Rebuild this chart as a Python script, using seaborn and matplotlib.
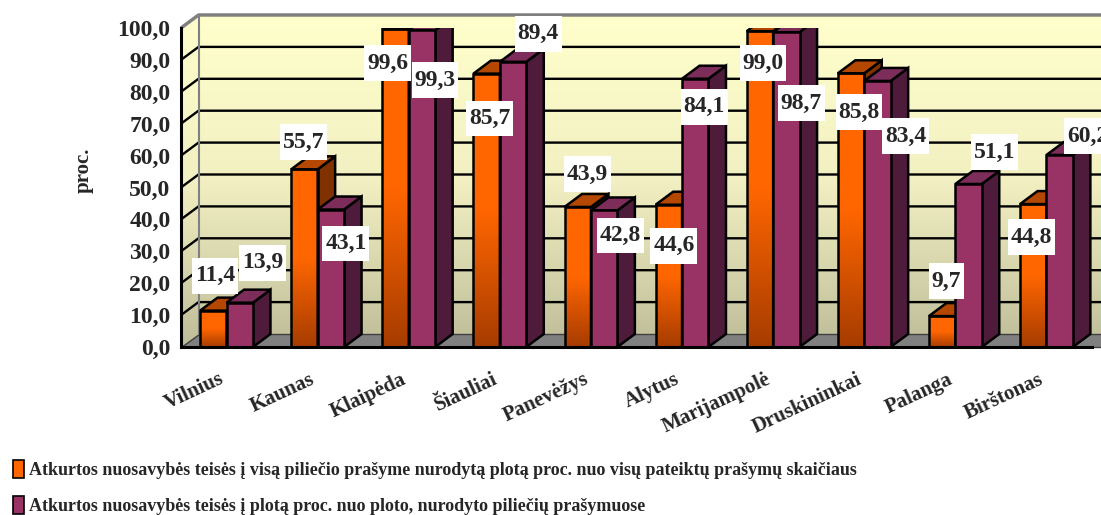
import numpy as np
import pandas as pd
import matplotlib
matplotlib.use("Agg")
import matplotlib.pyplot as plt
import seaborn as sns
from matplotlib.patches import Polygon, Patch
from matplotlib.colors import LinearSegmentedColormap
from matplotlib.transforms import IdentityTransform, ScaledTranslation

# ---------------- data ----------------
cities = ["Vilnius", "Kaunas", "Klaipėda", "Šiauliai", "Panevėžys", "Alytus",
          "Marijampolė", "Druskininkai", "Palanga", "Birštonas"]
series_a = [11.4, 55.7, 99.6, 85.7, 43.9, 44.6, 99.0, 85.8, 9.7, 44.8]
series_b = [13.9, 43.1, 99.3, 89.4, 42.8, 84.1, 98.7, 83.4, 51.1, 60.2]
legend_a = "Atkurtos nuosavybės teisės į visą piliečio prašyme nurodytą plotą proc. nuo visų pateiktų prašymų skaičiaus"
legend_b = "Atkurtos nuosavybės teisės į plotą proc. nuo ploto, nurodyto piliečių prašymuose"
y_ticks = [0, 10, 20, 30, 40, 50, 60, 70, 80, 90, 100]
y_label = "proc."

# label offsets (pixels, layout only)
label_off_a = [(2, 35), (-1, 27), (-8, -34), (3, -45), (10, 33), (5, -41), (3, -32), (8, -39), (4, 35), (-2, -33)]
label_off_b = [(23, 40), (15, -34), (13, -50), (25, 28), (16, -25), (9, -28), (15, -71), (28, -55), (26, 32), (28, 19)]

# ---------------- style ----------------
ORANGE = "#FF6600"
ORANGE_DARK = "#A63C00"
ORANGE_TOP = "#B54800"
ORANGE_SIDE = "#7F3200"
PURPLE = "#993366"
PURPLE_TOP = "#7D2D5A"
PURPLE_SIDE = "#4E1C3A"

sns.set_style("white")
plt.rcParams["font.family"] = ["Liberation Serif", "DejaVu Serif"]
plt.rcParams["font.weight"] = "bold"

W, H = 1101, 515
L, R, B, T = 181, 1092, 347, 28
DX, DY = 17.5, 13

fig = plt.figure(figsize=(W / 100, H / 100), dpi=100)

# ---------------- background (3D walls) ----------------
bg = fig.add_axes([0, 0, 1, 1], zorder=-1)
bg.axis("off")
grad = np.linspace(0, 1, 256).reshape(-1, 1)
wall_cmap = LinearSegmentedColormap.from_list("wall", ["#FFFFCC", "#F2F0C2", "#BEBD99"])
im = bg.imshow(grad, cmap=wall_cmap, extent=(L, W + 30, B, T - DY), aspect="auto",
               origin="upper", interpolation="bilinear")
clip = Polygon([(L, B), (L, T), (L + DX, T - DY), (W + 30, T - DY), (W + 30, B)],
               closed=True, transform=bg.transData)
im.set_clip_path(clip)
# floor
bg.add_patch(Polygon([(L, B), (W + 30, B), (W + 30, B - DY), (L + DX, B - DY)],
                     closed=True, facecolor="#808080", edgecolor="#404040", lw=1))
# gridlines on back wall
for t in y_ticks[1:]:
    y = B - (B - T) * t / 100
    col = "#808080" if t == 100 else "black"
    lw = 2.5 if t == 100 else 1.7
    bg.plot([L, L + DX, W + 30], [y, y - DY, y - DY], color=col, lw=lw, solid_capstyle="butt")
bg.plot([L + DX, L + DX], [B - DY, T - DY], color="#808080", lw=1.5)
bg.set_xlim(0, W)
bg.set_ylim(H, 0)

# ---------------- bars ----------------
df = pd.DataFrame({
    "city": cities * 2,
    "value": series_a + series_b,
    "series": [legend_a] * len(cities) + [legend_b] * len(cities),
})

ax = fig.add_axes([L / W, 1 - B / H, (R - L) / W, (B - T) / H])
ax.patch.set_alpha(0)
sns.barplot(data=df, x="city", y="value", hue="series", hue_order=[legend_a, legend_b],
            palette=[ORANGE, PURPLE], width=0.58, gap=0, saturation=1,
            edgecolor="black", linewidth=1.8, legend=False, ax=ax)
ax.set_xlim(-0.5, len(cities) - 0.5)
ax.set_ylim(0, 100)

orange_cmap = LinearSegmentedColormap.from_list("org", [ORANGE_DARK, ORANGE, ORANGE])
faces = [(ax.containers[0], ORANGE_TOP, ORANGE_SIDE, 3, True, series_a, label_off_a),
         (ax.containers[1], PURPLE_TOP, PURPLE_SIDE, 4, False, series_b, label_off_b)]

for cont, ctop, cside, z, gradient, vals, offs in faces:
    for bar, v, (ox, oy) in zip(cont.patches, vals, offs):
        x0, w, h = bar.get_x(), bar.get_width(), bar.get_height()
        bar.set_zorder(z + 0.2)
        if gradient:
            gim = ax.imshow(grad, cmap=orange_cmap, extent=(x0, x0 + w, 0, h),
                            aspect="auto", origin="lower", zorder=z, interpolation="bilinear")
            gim.set_clip_path(bar)
            bar.set_facecolor("none")
        (lx, by) = ax.transData.transform((x0, 0))
        (rx, ty) = ax.transData.transform((x0 + w, h))
        top = Polygon([(lx, ty), (rx, ty), (rx + DX, ty + DY), (lx + DX, ty + DY)], closed=True,
                      transform=IdentityTransform(), facecolor=ctop, edgecolor="black", lw=1.8,
                      zorder=z + 0.1)
        side = Polygon([(rx, by), (rx, ty), (rx + DX, ty + DY), (rx + DX, by + DY)], closed=True,
                       transform=IdentityTransform(), facecolor=cside, edgecolor="black", lw=1.8,
                       zorder=z + 0.1)
        ax.add_artist(side)
        ax.add_artist(top)
        ax.annotate(f"{v:.1f}".replace(".", ","), xy=(x0 + w / 2, h), xytext=(ox, oy),
                    textcoords="offset pixels", ha="center", va="center", fontsize=17,
                    fontweight="bold", zorder=10, annotation_clip=False,
                    bbox=dict(boxstyle="square,pad=0.12", mutation_aspect=2.6,
                              facecolor="white", edgecolor="none"))

# ---------------- axes ----------------
for s in ["top", "right"]:
    ax.spines[s].set_visible(False)
ax.spines["left"].set_color("black")
ax.spines["left"].set_linewidth(2.2)
ax.spines["bottom"].set_color("black")
ax.spines["bottom"].set_linewidth(2.2)
ax.spines["left"].set_zorder(6)
ax.spines["bottom"].set_zorder(6)

ax.set_yticks(y_ticks)
ax.set_yticklabels([f"{t:.1f}".replace(".", ",") for t in y_ticks], fontsize=17, fontweight="bold")
ax.tick_params(axis="y", length=6.5, width=2, direction="out", pad=1, color="black")

ax.set_xticks(np.arange(-0.5, len(cities), 1))
ax.set_xticklabels([])
ax.set_xticks(np.arange(len(cities)), minor=True)
ax.set_xticklabels(cities, minor=True, rotation=25, ha="right", rotation_mode="anchor",
                   fontsize=15, fontweight="bold")
ax.tick_params(axis="x", which="major", length=5, width=2, direction="out", color="black")
ax.tick_params(axis="x", which="minor", length=0, pad=16)
shift = ScaledTranslation(-8 / 100, 0, fig.dpi_scale_trans)
for lab in ax.get_xticklabels(minor=True):
    lab.set_transform(lab.get_transform() + shift)
ax.set_xlabel("")
ax.set_ylabel(y_label, fontsize=15, fontweight="bold", va="center")
ax.yaxis.set_label_coords((84 - L) / (R - L), (B - 170) / (B - T))

# ---------------- legend ----------------
fig.legend(handles=[Patch(facecolor=ORANGE, edgecolor="black", lw=1.2),
                    Patch(facecolor=PURPLE, edgecolor="black", lw=1.2)],
           labels=[legend_a, legend_b], loc="upper left", bbox_to_anchor=(6 / W, 1 - 453 / H),
           frameon=False, handlelength=0.6, handleheight=1.1, handletextpad=0.3,
           labelspacing=0.95, borderaxespad=0, prop=dict(weight="bold", size=13))

fig.savefig("out.png", dpi=100)
